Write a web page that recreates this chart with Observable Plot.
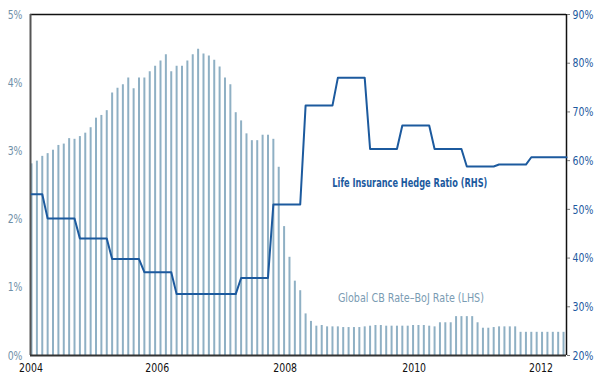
<!DOCTYPE html>
<html><head><meta charset="utf-8">
<script src="https://cdn.jsdelivr.net/npm/d3@7"></script>
<script src="https://cdn.jsdelivr.net/npm/@observablehq/plot@0.6"></script>
<style>
body{margin:0;background:#fff;}
#chart{width:600px;height:378px;}
</style></head><body><div id="chart"></div>
<script>
// Global CB Rate – BoJ Rate (LHS, %), monthly Jan 2004 – Apr 2012
const gapValues = [
  2.81,2.85,2.92,2.96,3.01,3.08,3.10,3.18,3.17,3.21,3.26,3.34,
  3.48,3.52,3.59,3.85,3.92,3.97,4.07,3.91,4.07,4.07,4.16,4.24,
  4.32,4.41,4.16,4.24,4.24,4.32,4.41,4.49,4.42,4.39,4.33,4.23,
  4.07,3.97,3.56,3.44,3.25,3.15,3.15,3.23,3.23,3.17,2.76,1.89,
  1.44,1.09,0.95,0.61,0.50,0.43,0.44,0.42,0.42,0.42,0.41,0.41,
  0.41,0.41,0.42,0.43,0.44,0.44,0.43,0.43,0.43,0.43,0.43,0.44,
  0.44,0.44,0.43,0.42,0.48,0.48,0.48,0.57,0.57,0.57,0.57,0.48,
  0.40,0.40,0.41,0.42,0.42,0.42,0.42,0.34,0.34,0.34,0.34,0.34,
  0.34,0.34,0.34,0.34
];
// Life Insurance Hedge Ratio (RHS, %), half-yearly steps (start month index)
const hedgeStart = [0,3,9,15,21,27,39,45,51,57,63,69,75,81,87,93];
const hedgeValue = [53.1,48.1,44.0,39.8,37.1,32.6,35.9,51.0,71.3,77.0,62.4,67.2,62.4,58.8,59.2,60.7];

const yearLabels = ["2004","2006","2008","2010","2012"];
const yearTickMonth = [-0.1, 23.4, 47.2, 71.2, 94.8];
const leftTicks = [0,1,2,3,4,5];
const rightTicks = [20,30,40,50,60,70,80,90];
const xDomain = [-0.19, 99.55];

const hedgeLabel = "Life Insurance Hedge Ratio (RHS)";
const gapLabel = "Global CB Rate\u2013BoJ Rate (LHS)";

const toLeft = h => (h - 20) / 70 * 5;
const bars = gapValues.map((v, i) => ({i, v}));
const hedgePts = [];
hedgeStart.forEach((s, k) => {
  const e = k < hedgeStart.length - 1 ? hedgeStart[k + 1] - 1 : xDomain[1];
  hedgePts.push({i: s, y: toLeft(hedgeValue[k])});
  hedgePts.push({i: e, y: toLeft(hedgeValue[k])});
});

const font = "'DejaVu Sans Condensed','Liberation Sans',sans-serif";
const chart = Plot.plot({
  width: 600, height: 378,
  marginLeft: 30, marginRight: 34, marginTop: 14, marginBottom: 23,
  style: {fontFamily: font, fontSize: "13px", background: "#fff"},
  x: {type: "linear", domain: xDomain},
  y: {domain: [0, 5]},
  marks: [
    Plot.ruleX(bars, {x: "i", y1: 0, y2: "v", stroke: "#8fb0c4", strokeWidth: 2}),
    Plot.ruleY([5], {stroke: "#111", strokeWidth: 1.5}),
    Plot.ruleX([xDomain[1]], {stroke: "#111", strokeWidth: 1.5}),
    Plot.ruleX([xDomain[0]], {stroke: "#555", strokeWidth: 2}),
    Plot.ruleY([0], {stroke: "#333", strokeWidth: 2}),
    Plot.line(hedgePts, {x: "i", y: "y", stroke: "#1c5a9e", strokeWidth: 2}),
    Plot.text([hedgeLabel], {x: 70.4, y: 2.53, text: d => d, fill: "#1c5a9e", fontWeight: "bold", fontSize: 13}),
    Plot.text([gapLabel], {x: 70.6, y: 0.84, text: d => d, fill: "#7a9bb3", fontSize: 13}),
    Plot.axisY({anchor: "left", ticks: leftTicks, tickFormat: d => d + "%", tickSize: 0, tickPadding: 8, color: "#6f90a8", label: null}),
    Plot.axisY({anchor: "right", ticks: rightTicks.map(toLeft), tickFormat: () => "", tickSize: 3, color: "#777", label: null}),
    Plot.axisY({anchor: "right", ticks: rightTicks.map(toLeft), tickFormat: d => Math.round(20 + d * 14) + "%", tickSize: 0, tickPadding: 6, color: "#1c5aa0", label: null}),
    Plot.axisX({ticks: yearTickMonth, tickFormat: d => yearLabels[yearTickMonth.indexOf(d)], tickSize: 0, tickPadding: 7, color: "#111", label: null})
  ]
});
document.getElementById("chart").appendChild(chart);

// emulate the condensed typeface of the original
d3.select(chart).selectAll("text").each(function() {
  const t = this.textContent;
  if (!t) return;
  const w = this.getComputedTextLength();
  if (!w) return;
  let target = w * 0.8;
  if (t === hedgeLabel) target = 155;
  else if (t === gapLabel) target = 146;
  this.setAttribute("textLength", target);
  this.setAttribute("lengthAdjust", "spacingAndGlyphs");
});
</script></body></html>
